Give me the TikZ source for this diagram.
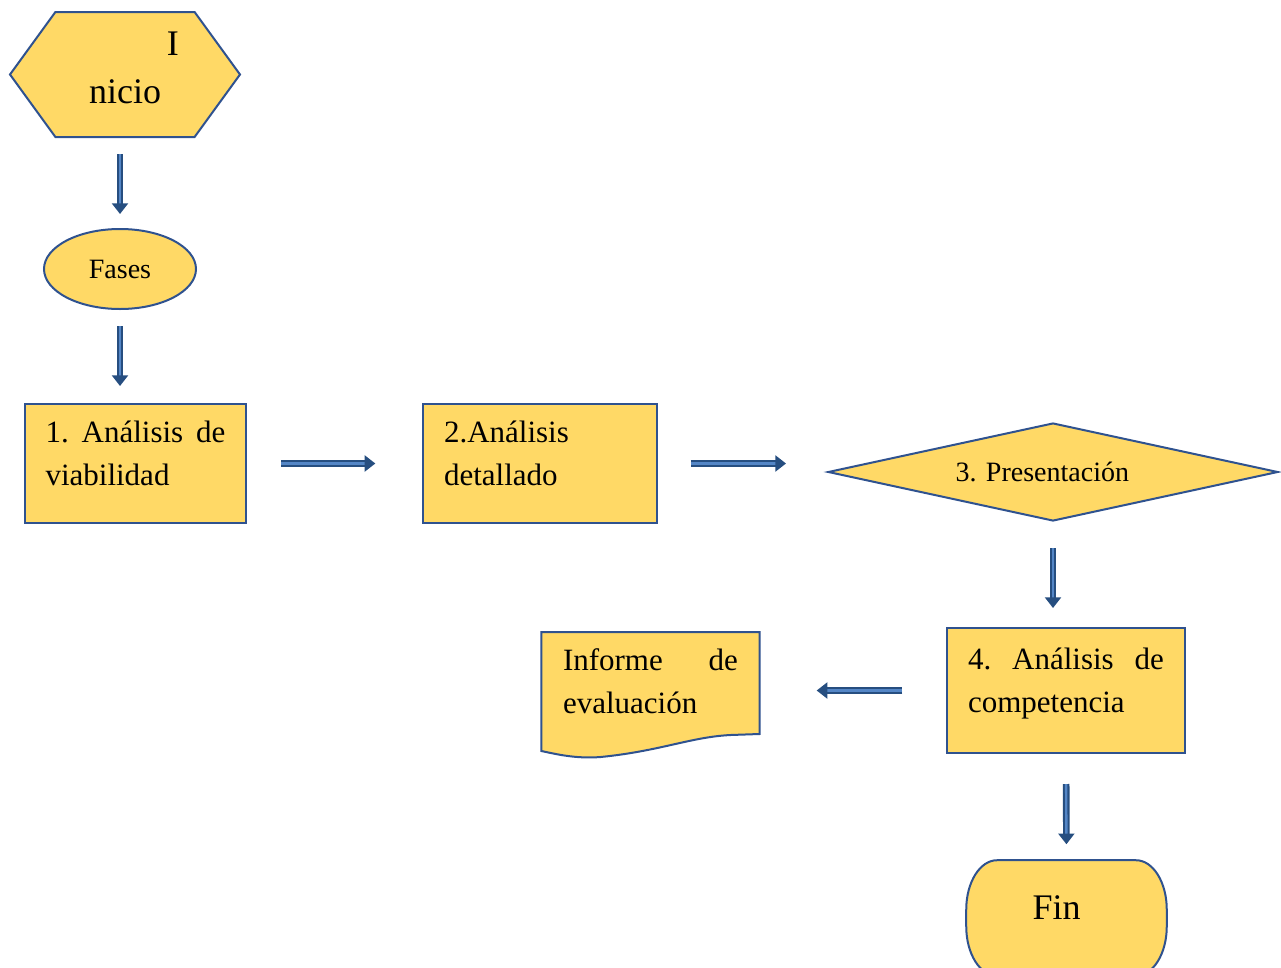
\documentclass[tikz,border=0pt]{standalone}
\usepackage{fontspec}
\setmainfont{Liberation Serif}
\usepackage{color}
\definecolor{myyellow}{RGB}{255,217,102}
\definecolor{myblue}{RGB}{47,82,143}
\definecolor{arrowdark}{RGB}{38,78,128}
\definecolor{arrowlight}{RGB}{84,134,198}
\usepackage{tikz}
\usetikzlibrary{arrows.meta,shapes.geometric,shapes.symbols,backgrounds,calc,positioning}
\tikzstyle{fase}=[draw=myblue,fill=myyellow,line width=1.5pt,text=black]
\tikzstyle{caja}=[fase,rectangle,align=left,inner xsep=15.5pt,inner ysep=0pt,text height=17pt,text depth=48pt,font=\fontsize{23.25pt}{32.25pt}\selectfont]
\tikzstyle{inicio}=[fase,signal,signal to=west and east,signal pointer angle=108,minimum width=172.5pt,minimum height=93.75pt,inner sep=0pt,align=center,text height=50pt,text depth=7.25pt,font=\fontsize{27pt}{36pt}\selectfont]
\tikzstyle{fases}=[fase,ellipse,minimum width=114pt,minimum height=60pt,inner sep=0pt,font=\fontsize{21pt}{25pt}\selectfont]
\tikzstyle{decision}=[fase,diamond,aspect=4.6,minimum width=337.5pt,minimum height=73.5pt,inner sep=0pt,font=\fontsize{21pt}{25pt}\selectfont]
\tikzstyle{fin}=[rectangle,minimum width=150pt,minimum height=86.25pt,text height=18pt,text depth=16pt,font=\fontsize{27pt}{32pt}\selectfont]
\tikzstyle{flecha}=[draw=arrowdark,line width=1.6pt,double=arrowlight,double distance=1.8pt,-{Triangle[length=8pt,width=12pt]}]

\begin{document}
\begin{tikzpicture}[x=0.75pt,y=-0.75pt]
\useasboundingbox (0,0) rectangle (1281,967);
\node [inicio] (inicio) at (125,74.5) {\hspace*{2.66em}I\\nicio};
\node [fases] (fases) at (120,269) {Fases};
\node [caja, text width=135pt, minimum height=89.25pt] (analisis1) at (135.5,463.5) {1.\hfill Análisis\hfill de\\viabilidad};
\node [caja, text width=144pt, minimum height=89.25pt] (analisis2) at (540,463.5) {2.Análisis\\detallado};
\node [decision] (presentacion) at (1053,472) {3. Presentación\hspace*{16pt}};
\node [caja, text width=147pt, minimum height=93.75pt] (analisis4) at (1066,690.5) {4.\hfill Análisis\hfill de\\competencia};
\node [caja, draw=none, fill=none, text width=131.25pt, minimum height=87.75pt] (informe) at (650.5,691.5) {Informe\hfill de\\evaluación};
\node [fin] (fin) at (1066.5,918) {Fin\hspace*{15pt}};

\begin{scope}[on background layer]
% hoja del informe
\draw [fase] (informe.north west) -- (informe.north east)
  -- ([shift={(0,-17)}]informe.south east)
  -- ([shift={(-29,-16)}]informe.south east)
  .. controls ([shift={(-69,-14)}]informe.south east) and ([shift={(-99,0)}]informe.south east) .. ([shift={(-159,6)}]informe.south east)
  .. controls ([shift={(-184,8)}]informe.south east) and ([shift={(-204,3)}]informe.south east) .. (informe.south west)
  -- cycle;
% terminal de fin
\draw [fase] ([xshift=23pt]fin.north west) -- ([xshift=-23pt]fin.north east)
  arc [start angle=90, end angle=0, x radius=23pt, y radius=37pt]
  -- ([yshift=37pt]fin.south east)
  arc [start angle=0, end angle=-90, x radius=23pt, y radius=37pt]
  -- ([xshift=23pt]fin.south west)
  arc [start angle=-90, end angle=-180, x radius=23pt, y radius=37pt]
  -- ([yshift=-37pt]fin.north west)
  arc [start angle=180, end angle=90, x radius=23pt, y radius=37pt]
  -- cycle;
\end{scope}

% flechas
\draw [flecha, shorten <=12pt, shorten >=10.5pt] (fases.north |- inicio.south) -- (fases.north);
\draw [flecha, shorten <=12pt, shorten >=12.75pt] (fases.south) -- (fases.south |- analisis1.north);
\draw [flecha, shorten <=25.5pt, shorten >=35.25pt] (analisis1.east) -- (analisis2.west);
\draw [flecha, shorten <=24.75pt, shorten >=30.75pt] (analisis2.east) -- (analisis2.east -| presentacion.west);
\draw [flecha, shorten <=19.5pt, shorten >=14.25pt] (presentacion.south) -- (presentacion.south |- analisis4.north);
\draw [flecha, shorten <=33pt, shorten >=42.75pt] (analisis4.west) -- (analisis4.west -| informe.east);
\draw [flecha, shorten <=22.5pt, shorten >=12pt] (analisis4.south) -- (fin.north);
\end{tikzpicture}
\end{document}
